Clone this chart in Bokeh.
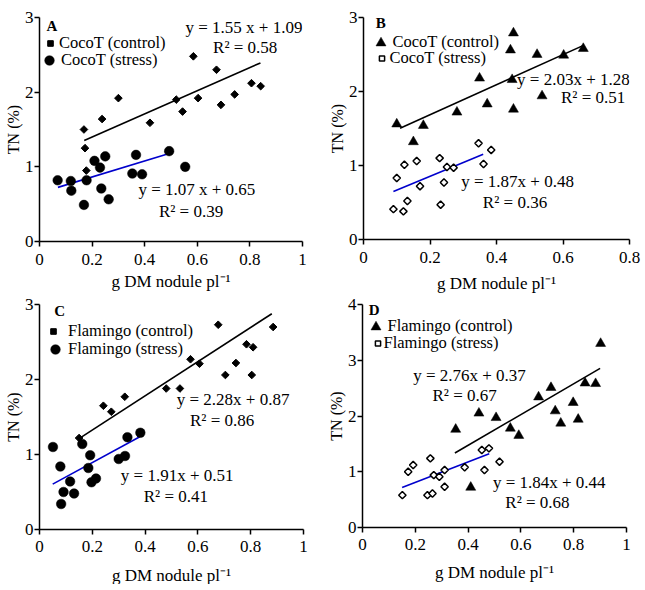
import numpy as np
from bokeh.plotting import figure
from bokeh.models import (Range1d, FixedTicker, CustomJSTickFormatter, Label,
                          Legend, LegendItem)
from bokeh.layouts import column, row
from bokeh.embed import file_html
from bokeh.resources import INLINE

FONT = "Liberation Serif"
BLUE = "#0000CC"

# ---------------- data ----------------
# Panel A : CocoT
a_ctrl_x = [0.169, 0.173, 0.178, 0.238, 0.30, 0.42, 0.52, 0.544, 0.585, 0.603, 0.673, 0.69, 0.742, 0.806, 0.841]
a_ctrl_y = [1.50, 1.25, 0.95, 1.64, 1.92, 1.59, 1.90, 1.74, 2.48, 1.92, 2.30, 1.83, 1.97, 2.12, 2.08]
a_str_x = [0.069, 0.119, 0.121, 0.169, 0.179, 0.209, 0.23, 0.25, 0.235, 0.263, 0.353, 0.367, 0.39, 0.493, 0.554]
a_str_y = [0.82, 0.81, 0.68, 0.49, 0.82, 1.08, 0.99, 1.14, 0.71, 0.565, 0.91, 1.16, 0.90, 1.21, 1.00]
a_fit = {"ctrl": (1.55, 1.09, [0.17, 0.84]), "str": (1.07, 0.65, [0.07, 0.49])}

# Panel B : CocoT
b_ctrl_x = [0.10, 0.15, 0.18, 0.281, 0.349, 0.372, 0.442, 0.451, 0.447, 0.451, 0.522, 0.537, 0.602, 0.661]
b_ctrl_y = [1.56, 1.32, 1.54, 1.72, 2.18, 1.83, 2.56, 2.79, 2.16, 1.76, 2.50, 1.94, 2.49, 2.58]
b_str_x = [0.09, 0.10, 0.12, 0.123, 0.132, 0.16, 0.17, 0.229, 0.232, 0.242, 0.251, 0.271, 0.346, 0.361, 0.384]
b_str_y = [0.41, 0.83, 0.38, 1.01, 0.52, 1.06, 0.72, 1.10, 0.47, 0.77, 0.98, 0.97, 1.30, 1.02, 1.21]
b_fit = {"ctrl": (2.03, 1.28, [0.11, 0.66]), "str": (1.87, 0.48, [0.09, 0.36])}

# Panel C : Flamingo
c_ctrl_x = [0.15, 0.242, 0.272, 0.323, 0.48, 0.532, 0.572, 0.606, 0.677, 0.704, 0.744, 0.784, 0.809, 0.804, 0.885]
c_ctrl_y = [1.22, 1.65, 1.57, 1.77, 1.88, 1.88, 2.27, 2.21, 2.73, 2.06, 2.22, 2.47, 2.43, 2.06, 2.70]
c_str_x = [0.051, 0.079, 0.082, 0.091, 0.116, 0.131, 0.162, 0.185, 0.192, 0.197, 0.214, 0.30, 0.324, 0.333, 0.382]
c_str_y = [1.10, 0.84, 0.34, 0.50, 0.64, 0.48, 1.14, 0.82, 0.99, 0.63, 0.68, 0.94, 0.98, 1.23, 1.29]
c_fit = {"ctrl": (2.28, 0.87, [0.16, 0.88]), "str": (1.91, 0.51, [0.05, 0.38])}

# Panel D : Flamingo
d_ctrl_x = [0.353, 0.41, 0.441, 0.506, 0.56, 0.592, 0.667, 0.714, 0.730, 0.751, 0.798, 0.817, 0.843, 0.883, 0.902]
d_ctrl_y = [1.76, 0.72, 2.05, 1.97, 1.78, 1.65, 2.34, 2.51, 2.09, 1.87, 2.24, 1.94, 2.59, 2.58, 3.30]
d_str_x = [0.151, 0.173, 0.192, 0.246, 0.257, 0.265, 0.27, 0.291, 0.311, 0.311, 0.387, 0.452, 0.462, 0.479, 0.519]
d_str_y = [0.58, 1.00, 1.12, 0.58, 1.24, 0.61, 0.94, 0.91, 1.03, 0.73, 1.08, 1.39, 1.03, 1.42, 1.18]
d_fit = {"ctrl": (2.76, 0.37, [0.35, 0.90]), "str": (1.84, 0.44, [0.15, 0.48])}

x_ticks_1 = [0, 0.2, 0.4, 0.6, 0.8, 1]
x_ticks_08 = [0, 0.2, 0.4, 0.6, 0.8]
y_ticks_3 = [0, 1, 2, 3]
y_ticks_4 = [0, 1, 2, 3, 4]

x_title = "g DM nodule pl\u207B\u00B9"
y_title = "TN (%)"

STY = {
    "diamond": dict(marker="square", angle=np.pi / 4, size=5.4, fill_color="black", line_color="black", line_width=1),
    "circle": dict(marker="circle", size=9.6, fill_color="black", line_color="black", line_width=0.5),
    "triangle": dict(marker="triangle", size=10, fill_color="black", line_color="black", line_width=0.5),
    "odiamond": dict(marker="square", angle=np.pi / 4, size=5.2, fill_color="white", line_color="black", line_width=1.5),
}
LEG_W = {"diamond": (14, 20), "circle": (24, 24), "triangle": (25, 25), "odiamond": (13, 20)}

fmt = CustomJSTickFormatter(code="return String(Math.round(tick*10)/10)")


def panel(frame_w, frame_h, borders, xr, yr, xt, yt, letter, letter_xy,
          series, fits, legends, eqs, tick_so, title_so):
    p = figure(frame_width=frame_w, frame_height=frame_h, output_backend="svg",
               toolbar_location=None,
               x_range=Range1d(*xr), y_range=Range1d(*yr),
               min_border_left=borders[0], min_border_right=borders[1],
               min_border_top=borders[2], min_border_bottom=0)
    p.outline_line_color = None
    p.grid.visible = False
    p.background_fill_color = "white"
    p.border_fill_color = "white"
    for ax, ticks in ((p.xaxis[0], xt), (p.yaxis[0], yt)):
        ax.ticker = FixedTicker(ticks=ticks, minor_ticks=[])
        ax.formatter = fmt
        ax.axis_line_width = 1.5
        ax.axis_line_color = "black"
        ax.major_tick_line_width = 1.5
        ax.major_tick_line_color = "black"
        ax.major_tick_out = 5
        ax.major_tick_in = 0
        ax.major_label_text_font = FONT
        ax.major_label_text_font_size = "17px"
        ax.major_label_text_color = "black"
        ax.axis_label_text_font = FONT
        ax.axis_label_text_font_style = "normal"
        ax.axis_label_text_color = "black"
    p.yaxis[0].major_label_standoff = 1
    p.yaxis[0].axis_label = y_title
    p.yaxis[0].axis_label_text_font_size = "16px"
    p.yaxis[0].axis_label_standoff = 0
    p.xaxis[0].major_label_standoff = tick_so
    p.xaxis[0].axis_label = x_title
    p.xaxis[0].axis_label_text_font_size = "17px"
    p.xaxis[0].axis_label_standoff = title_so

    for (m, b, xs), col in zip(fits, ("black", BLUE)):
        xs = np.array(xs)
        p.line(xs, m * xs + b, line_color=col, line_width=1.6)

    rends = []
    for xs, ys, kind in series:
        r = p.scatter(xs, ys, **STY[kind])
        rends.append((r, kind))

    for (r, kind), (lab, cx, cy, tx) in zip(rends, legends):
        # cx, cy: marker centre offset from frame top-left (px); tx: text start offset
        gw, gh = LEG_W[kind]
        left = cx - gw / 2
        top = cy - gh / 2
        vy = frame_h - top - gh
        stand = int(round(tx - (left + gw)))
        lg = Legend(items=[LegendItem(label=lab, renderers=[r])], location=(left, vy),
                    glyph_width=gw, glyph_height=gh, label_height=gh, label_standoff=stand,
                    padding=0, margin=0, spacing=0, border_line_alpha=0,
                    background_fill_alpha=0, label_text_font=FONT,
                    label_text_font_size="16.5px", label_text_color="black")
        p.add_layout(lg)

    p.add_layout(Label(x=letter_xy[0], y=letter_xy[1], text=letter, text_font=FONT,
                       text_font_size="15px", text_font_style="bold", text_color="black",
                       text_baseline="middle", text_align="left"))
    for txt, x, y in eqs:
        p.add_layout(Label(x=x, y=y, text=txt, text_font=FONT, text_font_size="17px",
                           text_color="black", text_baseline="middle", text_align="left"))
    return p


pA = panel(263, 224, (39, 22, 17), (0, 1), (0, 3), x_ticks_1, y_ticks_3, "A", (0.027, 2.89),
           [(a_ctrl_x, a_ctrl_y, "diamond"), (a_str_x, a_str_y, "circle")],
           [a_fit["ctrl"], a_fit["str"]],
           [("CocoT (control)", 11, 26, 20), ("CocoT (stress)", 10, 43, 20)],
           [("y = 1.55 x + 1.09", 0.555, 2.865), ("R\u00B2 = 0.58", 0.66, 2.60),
            ("y = 1.07 x + 0.65", 0.376, 0.69), ("R\u00B2 = 0.39", 0.454, 0.405)],
           7, 4)

pB = panel(266, 222, (39, 14, 15), (0, 0.8), (0, 3), x_ticks_08, y_ticks_3, "B", (0.037, 2.93),
           [(b_ctrl_x, b_ctrl_y, "triangle"), (b_str_x, b_str_y, "odiamond")],
           [b_fit["ctrl"], b_fit["str"]],
           [("CocoT (control)", 17, 25, 27), ("CocoT (stress)", 18, 41, 27)],
           [("y = 2.03x + 1.28", 0.462, 2.16), ("R\u00B2 = 0.51", 0.594, 1.92),
            ("y = 1.87x + 0.48", 0.294, 0.787), ("R\u00B2 = 0.36", 0.359, 0.494)],
           7, 8)

pC = panel(264, 225, (39, 20, 8), (0, 1), (0, 3), x_ticks_1, y_ticks_3, "C", (0.056, 2.92),
           [(c_ctrl_x, c_ctrl_y, "diamond"), (c_str_x, c_str_y, "circle")],
           [c_fit["ctrl"], c_fit["str"]],
           [("Flamingo (control)", 14, 27, 29), ("Flamingo (stress)", 16, 45, 29)],
           [("y = 2.28x + 0.87", 0.52, 1.74), ("R\u00B2 = 0.86", 0.57, 1.45),
            ("y = 1.91x + 0.51", 0.308, 0.72), ("R\u00B2 = 0.41", 0.395, 0.44)],
           6, 11)

pD = panel(264, 223, (39, 17, 11), (0, 1), (0, 4), x_ticks_1, y_ticks_4, "D", (0.024, 3.91),
           [(d_ctrl_x, d_ctrl_y, "triangle"), (d_str_x, d_str_y, "odiamond")],
           [d_fit["ctrl"], d_fit["str"]],
           [("Flamingo (control)", 13, 22, 22), ("Flamingo (stress)", 15, 39, 22)],
           [("y = 2.76x + 0.37", 0.192, 2.73), ("R\u00B2 = 0.67", 0.265, 2.36),
            ("y = 1.84x + 0.44", 0.494, 0.81), ("R\u00B2 = 0.68", 0.541, 0.45)],
           6, 10)

layout = column(row(pA, pB), row(pC, pD))
open("out.html", "w").write(file_html(layout, INLINE))
